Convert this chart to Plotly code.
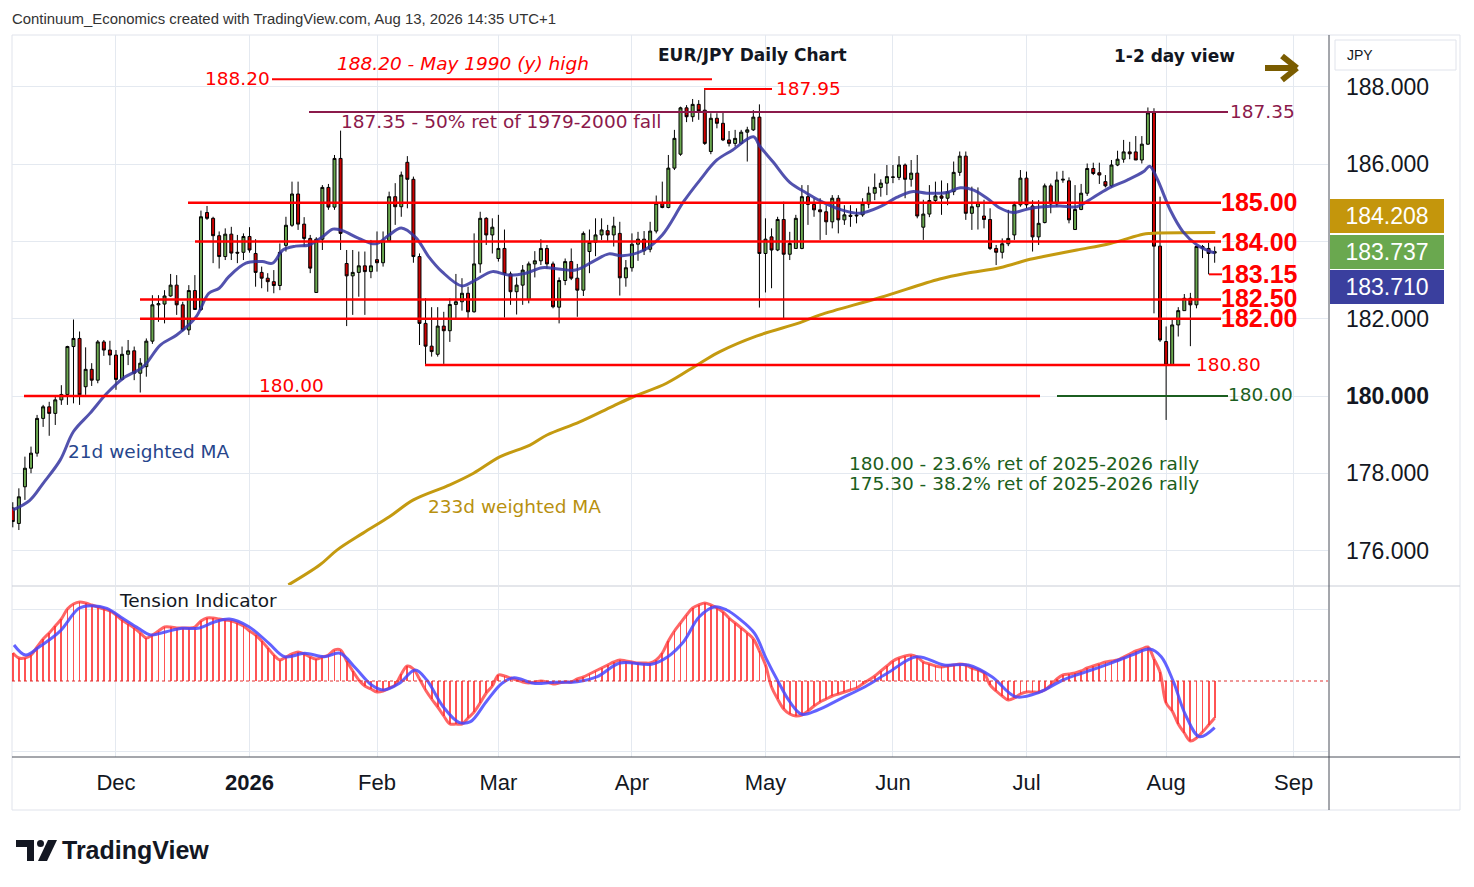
import pandas as pd
import plotly.graph_objects as go

# ------------------------------------------------------------------ data
dates = [d for d in pd.bdate_range("2025-11-06", "2026-08-13")
         if d.strftime("%m-%d") not in ("12-25", "01-01")]

open_ = [
    177.10, 176.70, 177.65, 178.13, 178.52, 179.42, 179.72, 179.55, 179.90, 180.04,
    181.28, 181.49, 180.24, 180.69, 180.41, 181.40, 181.19, 181.06, 180.43, 181.08,
    181.17, 180.59, 180.76, 181.42, 182.36, 182.38, 182.59, 182.87, 182.36, 181.71,
    182.73, 182.24, 184.75, 184.60, 184.15, 183.61, 184.19, 183.72, 183.72, 184.13,
    183.69, 183.20, 183.05, 182.96, 182.86, 183.90, 184.42, 185.23, 184.45, 184.08,
    182.68, 184.06, 185.40, 184.89, 186.15, 183.43, 183.11, 183.20, 183.37, 183.22,
    183.53, 183.45, 184.02, 185.16, 184.90, 186.05, 185.61, 183.61, 181.88, 181.29,
    181.08, 181.81, 181.69, 182.37, 182.44, 182.66, 182.18, 183.42, 184.60, 184.17,
    183.56, 183.82, 183.16, 182.70, 182.87, 182.50, 183.42, 183.50, 183.82, 183.42,
    182.30, 182.99, 183.48, 183.05, 182.74, 183.74, 183.98, 184.17, 184.28, 184.17,
    184.21, 183.06, 183.32, 183.93, 184.06, 183.80, 184.27, 184.99, 184.88, 185.90,
    186.26, 187.46, 187.23, 187.55, 187.40, 186.33, 187.19, 187.06, 186.63, 186.54,
    186.54, 186.83, 186.89, 187.22, 183.69, 184.12, 183.78, 184.57, 183.67, 183.82,
    183.82, 185.16, 184.96, 184.82, 184.77, 184.51, 185.12, 184.56, 184.68, 184.66,
    184.69, 184.97, 185.25, 185.40, 185.51, 185.66, 185.66, 185.98, 185.61, 185.77,
    184.37, 184.71, 185.06, 185.18, 185.12, 185.29, 185.79, 186.21, 184.73, 184.90,
    184.66, 184.57, 183.82, 183.72, 183.94, 184.17, 184.95, 185.64, 184.92, 184.12,
    184.49, 185.44, 184.97, 185.59, 185.57, 184.31, 184.83, 185.25, 185.89, 185.78,
    185.55, 185.44, 185.98, 186.13, 186.32, 186.32, 186.11, 186.52, 187.33, 183.88,
    181.41, 180.80, 181.84, 182.21, 182.53, 182.36, 183.87, 183.82, 183.70,
]
high = [
    177.25, 177.61, 178.43, 178.69, 179.51, 179.77, 179.85, 179.98, 180.28, 181.30,
    181.98, 181.67, 181.26, 180.85, 181.45, 181.45, 181.43, 181.19, 181.28, 181.45,
    181.28, 180.98, 181.49, 182.61, 182.61, 182.74, 183.16, 183.13, 182.44, 182.87,
    183.13, 184.80, 184.92, 184.64, 184.26, 184.34, 184.38, 184.17, 184.21, 184.37,
    184.06, 183.35, 183.18, 183.26, 183.95, 184.64, 185.55, 185.55, 184.63, 184.17,
    184.11, 185.46, 185.49, 186.24, 186.87, 183.78, 183.78, 183.74, 183.74, 184.04,
    184.26, 184.26, 185.29, 185.51, 185.81, 186.21, 185.68, 183.69, 182.53, 182.30,
    182.30, 182.18, 182.53, 183.16, 183.05, 182.83, 184.21, 184.77, 184.63, 184.60,
    184.69, 184.31, 183.22, 183.07, 183.39, 183.48, 183.75, 184.06, 183.91, 183.48,
    183.07, 183.56, 183.82, 183.42, 184.26, 184.31, 184.60, 184.60, 184.43, 184.64,
    184.51, 183.52, 184.21, 184.25, 184.27, 184.51, 185.19, 185.55, 186.24, 186.89,
    187.49, 187.53, 187.69, 187.66, 187.95, 187.32, 187.32, 187.34, 186.86, 186.89,
    186.89, 186.97, 187.40, 187.55, 184.60, 184.34, 184.64, 185.03, 184.25, 184.69,
    185.46, 185.46, 185.12, 185.12, 184.94, 185.20, 185.20, 184.94, 184.94, 184.86,
    185.12, 185.42, 185.76, 185.61, 185.98, 185.98, 186.21, 186.02, 186.11, 186.24,
    185.08, 185.46, 185.55, 185.58, 185.51, 186.07, 186.33, 186.33, 185.42, 185.40,
    185.08, 184.86, 183.91, 184.08, 184.82, 185.03, 185.85, 185.81, 185.07, 185.07,
    185.50, 185.50, 185.81, 185.83, 185.66, 185.46, 185.49, 186.02, 186.04, 186.04,
    185.72, 186.11, 186.35, 186.63, 186.58, 186.73, 186.73, 187.47, 187.45, 185.16,
    181.80, 181.97, 182.30, 182.64, 182.67, 183.88, 183.91, 183.97, 183.87,
]
low = [
    176.60, 176.53, 177.31, 178.00, 178.43, 179.20, 178.97, 179.25, 179.77, 179.77,
    179.81, 179.77, 180.03, 180.26, 180.33, 181.04, 180.80, 180.16, 180.41, 180.80,
    180.41, 180.09, 180.50, 181.35, 181.92, 181.88, 182.57, 182.10, 181.67, 181.58,
    182.23, 182.20, 184.56, 183.44, 183.30, 183.52, 183.52, 183.44, 183.52, 183.71,
    182.83, 182.79, 182.70, 182.66, 182.74, 183.74, 184.38, 184.30, 183.87, 183.18,
    182.68, 183.78, 184.82, 184.82, 183.78, 181.81, 182.10, 182.57, 182.10, 183.05,
    183.22, 183.35, 184.00, 184.43, 184.64, 184.86, 183.45, 181.32, 180.80, 181.02,
    181.02, 180.83, 181.40, 182.01, 182.21, 182.01, 182.16, 183.19, 183.91, 183.69,
    183.48, 182.03, 182.36, 182.11, 182.36, 182.40, 183.07, 183.39, 183.30, 182.27,
    181.88, 182.87, 183.00, 182.05, 182.59, 183.18, 183.62, 184.04, 184.00, 183.87,
    182.60, 182.83, 183.22, 183.50, 183.65, 183.72, 184.21, 184.86, 184.86, 185.85,
    186.22, 187.09, 187.10, 187.15, 186.50, 186.26, 186.93, 186.60, 186.46, 186.46,
    186.52, 186.07, 186.86, 182.29, 182.68, 182.79, 183.75, 182.01, 183.52, 183.81,
    183.80, 184.43, 184.64, 184.04, 184.17, 184.34, 184.21, 184.43, 184.38, 184.47,
    184.64, 184.86, 185.07, 185.16, 185.20, 185.51, 185.59, 185.12, 185.42, 184.60,
    184.04, 184.63, 184.99, 184.69, 184.94, 185.20, 185.70, 184.56, 184.30, 184.31,
    184.34, 183.78, 183.39, 183.56, 183.88, 184.04, 184.90, 184.86, 183.74, 183.91,
    184.47, 184.73, 184.90, 185.52, 184.47, 184.31, 184.81, 185.18, 185.72, 185.49,
    185.40, 185.40, 185.95, 186.04, 186.13, 186.11, 186.02, 186.50, 182.14, 181.40,
    179.38, 180.80, 181.54, 182.21, 181.29, 182.27, 183.57, 183.15, 183.45,
]
close = [
    176.75, 177.39, 178.13, 178.52, 179.42, 179.72, 179.55, 179.90, 180.04, 181.28,
    181.49, 180.03, 180.69, 180.41, 181.40, 181.19, 181.06, 180.43, 181.08, 181.17,
    180.59, 180.85, 181.42, 182.36, 182.39, 182.59, 182.87, 182.36, 181.71, 182.73,
    182.24, 184.64, 184.60, 184.15, 183.61, 184.19, 183.70, 183.70, 184.13, 183.78,
    183.20, 183.05, 182.96, 182.86, 183.72, 184.42, 185.23, 184.45, 184.08, 183.31,
    184.06, 185.40, 184.89, 186.15, 184.21, 183.11, 183.20, 183.37, 183.22, 183.37,
    183.45, 184.02, 185.16, 184.90, 185.72, 185.61, 183.61, 181.88, 181.29, 181.15,
    181.81, 181.69, 182.37, 182.44, 182.66, 182.18, 183.42, 184.60, 184.17, 184.37,
    183.82, 183.16, 182.70, 182.87, 183.26, 183.42, 183.50, 183.82, 183.42, 182.31,
    182.99, 183.48, 183.05, 182.74, 184.21, 183.98, 184.17, 184.30, 184.17, 184.40,
    183.06, 183.32, 183.93, 184.06, 183.76, 184.27, 184.99, 184.88, 185.90, 186.67,
    187.46, 187.23, 187.55, 187.38, 186.54, 187.19, 187.06, 186.63, 186.54, 186.67,
    186.83, 186.89, 187.22, 183.69, 184.06, 183.78, 184.57, 183.67, 183.95, 184.60,
    185.16, 184.96, 184.82, 184.77, 184.51, 185.12, 184.56, 184.69, 184.65, 184.68,
    184.97, 185.25, 185.40, 185.51, 185.68, 185.67, 185.98, 185.61, 185.77, 184.66,
    184.71, 185.06, 185.18, 185.12, 185.29, 185.79, 186.21, 184.73, 184.90, 185.00,
    184.57, 183.82, 183.72, 183.94, 184.08, 184.95, 185.64, 184.95, 184.12, 184.47,
    185.44, 184.97, 185.59, 185.61, 184.56, 184.83, 185.25, 185.89, 185.76, 185.72,
    185.44, 185.98, 186.13, 186.32, 186.27, 186.11, 186.52, 187.33, 183.88, 181.45,
    180.80, 181.84, 182.21, 182.53, 182.36, 183.87, 183.83, 183.69, 183.737,
]

# 21d weighted MA (bar position, value)
wma21_pos = [0, 2.8, 5, 7.8, 10, 12.7, 15.5, 18.2, 21.5, 24.3, 27, 30.2, 32.3, 34, 35.6,
             38.4, 41.1, 42.8, 44.5, 46.6, 48.8, 51.1, 52.7, 54.3, 57, 59.8, 62, 64, 66.4,
             68.5, 70.7, 74, 76.2, 79, 81.7, 84.5, 87.2, 89.9, 92.7, 96, 98.2, 100.4, 104,
             107, 110.5, 113.2, 116, 118.6, 122, 123.1, 125.3, 128, 130.8, 133, 136.3, 139.6,
             142.9, 145.6, 148.1, 150.6, 153.9, 156.1, 158.3, 160.5, 162.7, 164.8, 167.4,
             169.8, 172.5, 175.3, 178, 180.8, 183.6, 186.3, 187.3, 188.5, 190.7, 192.8,
             195.1, 197.3, 198]
wma21_val = [177.05, 177.30, 177.74, 178.34, 179.08, 179.55, 180.07, 180.46, 180.76, 181.32,
             181.58, 182.05, 182.66, 182.79, 183.09, 183.44, 183.48, 183.44, 183.78, 183.88,
             183.91, 184.13, 184.32, 184.28, 184.08, 183.94, 184.17, 184.35, 184.10, 183.61,
             183.22, 182.85, 183.00, 183.22, 183.13, 183.18, 183.32, 183.29, 183.26, 183.52,
             183.68, 183.63, 183.78, 184.17, 185.03, 185.59, 186.11, 186.37, 186.71, 186.46,
             186.05, 185.53, 185.25, 185.05, 184.83, 184.73, 184.90, 185.14, 185.29, 185.25,
             185.27, 185.39, 185.33, 185.12, 184.86, 184.75, 184.85, 184.90, 184.92, 184.90,
             185.14, 185.40, 185.59, 185.81, 185.95, 185.63, 184.81, 184.25, 183.91, 183.74,
             183.71]

# 233d weighted MA (bar position, value)
wma233_pos = [45.4, 50.6, 53.4, 57.7, 62.1, 66.0, 72.0, 75.9, 80.3, 85.2, 88.0, 93.4, 98.9,
              102.5, 107.7, 113.2, 116.5, 122.5, 129.7, 133.0, 142.9, 152.7, 157.1, 162.6,
              167.6, 169.8, 175.3, 180.8, 186.2, 187.3, 198.1]
wma233_val = [175.11, 175.63, 176.01, 176.45, 176.88, 177.31, 177.70, 178.00, 178.43, 178.73,
              178.99, 179.33, 179.74, 180.00, 180.33, 180.85, 181.15, 181.55, 181.90, 182.10,
              182.55, 183.03, 183.18, 183.32, 183.54, 183.61, 183.78, 183.95, 184.19, 184.21,
              184.23]

# Tension indicator (one value per bar) and its signal line
tension = [
    28, 23, 23, 26, 34, 42, 48, 55, 62, 72,
    77, 79, 78, 76, 74, 72, 70, 66, 61, 57,
    53, 48, 43, 46, 50, 54, 54, 53, 53, 53,
    54, 60, 63, 63, 62, 61, 60, 58, 55, 50,
    46, 40, 33, 26, 21, 24, 27, 29, 27, 24,
    22, 24, 26, 31, 31, 20, 10, 1, -5, -8,
    -11, -10, -7, -4, 7, 15, 12, 2, -9, -18,
    -26, -35, -43, -43, -43, -37, -31, -22, -12, -5,
    6, 5, 3, 1, -1, -2, -1, 0, -1, -3,
    -2, -1, -1, 2, 4, 7, 10, 13, 16, 19,
    21, 20, 19, 18, 18, 18, 21, 28, 40, 50,
    58, 66, 73, 76, 78, 76, 73, 69, 63, 58,
    53, 48, 42, 30, 16, -6, -18, -28, -33, -35,
    -34, -30, -25, -21, -18, -15, -13, -11, -9, -7,
    -3, 1, 5, 10, 15, 20, 23, 25, 26, 24,
    19, 17, 15, 14, 15, 16, 17, 16, 13, 11,
    8, -4, -10, -15, -19, -17, -13, -11, -11, -11,
    -9, -4, 2, 6, 7, 8, 10, 13, 15, 17,
    19, 20, 21, 24, 27, 30, 32, 34, 22, 9,
    -22, -30, -43, -52, -60, -57, -51, -44, -37,
]
signal_pos = [0.2, 2.1, 4.4, 7.7, 10.9, 12.9, 15.5, 18.1, 20.7, 22.7, 25.3, 27.9, 30.5, 33.1,
              35.7, 38.9, 42.2, 44.8, 48.1, 51.3, 53.9, 56.5, 59.1, 61.1, 63.7, 66.3, 68.2,
              70.9, 73.5, 75.4, 78.0, 80.6, 82.6, 85.8, 89.1, 93.0, 96.3, 100.0, 105.2, 107.9,
              110.5, 113.1, 115.7, 117.6, 119.6, 122.2, 124.1, 126.1, 128.0, 130.0, 132.6,
              136.5, 140.4, 144.3, 148.9, 153.4, 157.4, 161.3, 165.2, 169.1, 173.0, 176.9,
              180.8, 184.7, 187.3, 189.2, 191.2, 193.2, 195.5, 198.0]
signal_val = [36, 26, 34.3, 49.3, 72.7, 75.3, 72.7, 62.7, 52.7, 46, 49.3, 52.7, 52.7, 58.7,
              62, 54.3, 37.7, 24.3, 27.7, 24.3, 27.7, 12.7, -4, -9, -2.3, 11, 1, -25.7, -41.3,
              -40.7, -20.7, -2.3, 3.3, -2.3, -1.3, -0.7, 4.3, 18, 16.7, 24.3, 39.3, 64.3, 74.3,
              71, 62.7, 47.7, 22.7, -0.7, -20.7, -33.3, -29, -17.3, -5.7, 8.7, 24.3, 16, 16,
              4.3, -15.7, -11.3, 1, 9.3, 17.7, 26.7, 32, 24.3, -0.7, -34, -55.7, -46.7]

month_labels = ["Dec", "<b>2026</b>", "Feb", "Mar", "Apr", "May", "Jun", "Jul", "Aug", "Sep"]
month_starts = ["2025-12-01", "2026-01-02", "2026-02-02", "2026-03-02", "2026-04-01",
                "2026-05-01", "2026-06-01", "2026-07-01", "2026-08-03", "2026-09-01"]
price_ticks = [176, 178, 180, 182, 184, 186, 188]
price_ticktext = ["176.000", "178.000", "<b>180.000</b>", "182.000", "", "186.000", "188.000"]

wma233_last = 184.208
close_last = 183.737
wma21_last = 183.710

# ------------------------------------------------------------------ helpers
# The page body adds an 8px margin, so the figure is laid out 8px smaller/offset.
OFF = 8
FW, FH = 1474 - 2 * OFF, 887 - 2 * OFF
ML, MT = 12 - OFF, 35 - OFF
MR = FW - (1328 - OFF)
MB = FH - (757 - OFF)
PW, PH = FW - ML - MR, FH - MT - MB


def px(x):  # reference-image pixel x -> paper
    return (x - 12) / PW


def py(y):  # reference-image pixel y -> paper
    return (757 - y) / PH


def bar_index(ds):
    d = pd.Timestamp(ds)
    if d in dates:
        return dates.index(d)
    return len(dates) - 1 + len(pd.bdate_range(dates[-1] + pd.Timedelta(days=1), d))


xs = list(range(len(dates)))
tick_pos = [bar_index(d) for d in month_starts]

RED = "#FF0000"
MAROON = "#8B1A4B"
DGREEN = "#1B5E20"
NAVY = "#27468C"
GOLD = "#B8900E"
GRID = "#E4E9F0"
TXT = "#131722"
XR = [-0.13, 216.67]

fig = go.Figure()

fig.add_trace(go.Candlestick(
    x=xs, open=open_, high=high, low=low, close=close,
    increasing=dict(line=dict(color="#000000", width=1), fillcolor="#6AA84F"),
    decreasing=dict(line=dict(color="#000000", width=1), fillcolor="#CC0000"),
    whiskerwidth=0, xaxis="x", yaxis="y", showlegend=False))

fig.add_trace(go.Scatter(x=wma233_pos, y=wma233_val, mode="lines",
                         line=dict(color="#C49A10", width=3, shape="spline"),
                         xaxis="x", yaxis="y", hoverinfo="skip"))
fig.add_trace(go.Scatter(x=wma21_pos, y=wma21_val, mode="lines",
                         line=dict(color="rgba(52,52,160,0.85)", width=3, shape="spline"),
                         xaxis="x", yaxis="y", hoverinfo="skip"))

# Tension indicator
fig.add_trace(go.Bar(x=xs, y=tension, width=0.3,
                     marker=dict(color="rgba(255,40,40,0.8)", line=dict(width=0)),
                     xaxis="x2", yaxis="y2", hoverinfo="skip"))
fig.add_trace(go.Scatter(x=xs, y=tension, mode="lines",
                         line=dict(color="rgba(255,50,50,0.75)", width=3, shape="spline"),
                         xaxis="x2", yaxis="y2", hoverinfo="skip"))
fig.add_trace(go.Scatter(x=signal_pos, y=signal_val, mode="lines",
                         line=dict(color="rgba(70,70,255,0.85)", width=3, shape="spline"),
                         xaxis="x2", yaxis="y2", hoverinfo="skip"))

fig.update_layout(
    width=FW, height=FH, margin=dict(l=ML, r=MR, t=MT, b=MB, autoexpand=False),
    paper_bgcolor="white", plot_bgcolor="white", showlegend=False, bargap=0,
    xaxis=dict(domain=[0, 1], anchor="y", range=XR, tickvals=tick_pos, showticklabels=False,
               showgrid=True, gridcolor=GRID, zeroline=False, rangeslider=dict(visible=False),
               ticks=""),
    yaxis=dict(domain=[py(585), 1], anchor="x", range=[175.107, 189.346], side="right",
               tickvals=price_ticks, ticktext=price_ticktext, showgrid=True, gridcolor=GRID,
               zeroline=False, ticks="", ticklabelstandoff=17,
               tickfont=dict(family="Liberation Sans", size=23, color=TXT)),
    xaxis2=dict(domain=[0, 1], anchor="y2", range=XR, tickvals=tick_pos, ticktext=month_labels,
                showgrid=True, gridcolor=GRID, zeroline=False, ticks="", ticklabelstandoff=10,
                tickfont=dict(family="Liberation Sans", size=22, color=TXT)),
    yaxis2=dict(domain=[0, py(587)], anchor="x2", range=[-76, 94], side="right",
                tickvals=[-70, 72], showticklabels=False, showgrid=True, gridcolor=GRID,
                zeroline=False, ticks=""),
)

shapes = []


def hline(level, x0, x1, color, width=2.5):
    shapes.append(dict(type="line", xref="paper", yref="y", x0=px(x0), x1=px(x1),
                       y0=level, y1=level, line=dict(color=color, width=width), layer="above"))


def pline(x0, y0, x1, y1, color, width=1, dash=None):
    ln = dict(color=color, width=width)
    if dash:
        ln["dash"] = dash
    shapes.append(dict(type="line", xref="paper", yref="paper", x0=px(x0), y0=py(y0),
                       x1=px(x1), y1=py(y1), line=ln, layer="above"))


hline(188.20, 272, 712, RED, 2)
hline(187.95, 704, 772, RED, 2)
hline(187.35, 309, 1228, MAROON, 2)
hline(185.00, 188, 1221, RED)
hline(184.00, 195, 1221, RED)
hline(183.15, 1209, 1222, RED, 2)
hline(182.50, 140, 1221, RED)
hline(182.00, 140, 1221, RED)
hline(180.80, 425, 1190, RED)
hline(180.00, 24, 1040, RED)
hline(180.00, 1057, 1228, DGREEN, 2)

# zero line of the indicator
shapes.append(dict(type="line", xref="paper", yref="y2", x0=0, x1=1, y0=0, y1=0,
                   line=dict(color="#E03030", width=1.2, dash="dot"), layer="above"))

# frame / separators
pline(12, 586, 1460, 586, "#C9CDD6", 1)
pline(1329, 35, 1329, 810, "#4A4E59", 1)
pline(12, 757, 1460, 757, "#4A4E59", 1)
shapes.append(dict(type="rect", xref="paper", yref="paper", x0=px(12), y0=py(35), x1=px(1460),
                   y1=py(810), line=dict(color="#E0E3EB", width=1), layer="below"))
# currency box
shapes.append(dict(type="rect", xref="paper", yref="paper", x0=px(1335), y0=py(40), x1=px(1456),
                   y1=py(70), line=dict(color="#E0E3EB", width=1), fillcolor="white", layer="above"))
# outlook arrow
ARROW = "#7A5C00"
pline(1265, 68, 1295, 68, ARROW, 6)
pline(1282, 56, 1297, 68, ARROW, 6)
pline(1297, 68, 1282, 80, ARROW, 6)

# TradingView logo mark
shapes.append(dict(type="rect", xref="paper", yref="paper", x0=px(16), y0=py(840), x1=px(34),
                   y1=py(847), fillcolor=TXT, line=dict(width=0)))
shapes.append(dict(type="rect", xref="paper", yref="paper", x0=px(27), y0=py(840), x1=px(34),
                   y1=py(861), fillcolor=TXT, line=dict(width=0)))
shapes.append(dict(type="circle", xref="paper", yref="paper", x0=px(37), y0=py(840), x1=px(44),
                   y1=py(847), fillcolor=TXT, line=dict(width=0)))
shapes.append(dict(type="path", xref="paper", yref="paper",
                   path="M %f,%f L %f,%f L %f,%f L %f,%f Z" % (px(38), py(861), px(47), py(861),
                                                               px(57), py(840), px(48), py(840)),
                   fillcolor=TXT, line=dict(width=0)))
fig.update_layout(shapes=shapes)


def txt(s, x, y, size, color, family="DejaVu Sans", anchor="left", bold=False, italic=False):
    f = dict(size=size, color=color, family=family)
    if bold:
        f["weight"] = "bold"
    if italic:
        f["style"] = "italic"
    fig.add_annotation(text=s, xref="paper", yref="paper", x=px(x), y=py(y), xanchor=anchor,
                       yanchor="middle", showarrow=False, font=f, borderpad=0)


txt("Continuum_Economics created with TradingView.com, Aug 13, 2026 14:35 UTC+1", 11, 19, 14.9,
    "#333333", family="Liberation Sans")
txt("EUR/JPY Daily Chart", 657, 55, 17, TXT, bold=True)
txt("1-2 day view", 1113, 56, 17, TXT, bold=True)
txt("188.20", 204, 78, 18.5, RED)
txt("188.20 - May 1990 (y) high", 336, 64, 18.5, RED, italic=True)
txt("187.95", 775, 89, 18.5, RED)
txt("187.35", 1229, 112, 18.5, MAROON)
txt("187.35 - 50% ret of 1979-2000 fall", 340, 122, 18.5, MAROON)
for lab, yy in [("185.00", 202), ("184.00", 242), ("183.15", 274), ("182.50", 298), ("182.00", 318)]:
    txt(lab, 1220, yy, 25, RED, family="Liberation Sans", bold=True)
txt("180.80", 1195, 364, 18.5, RED)
txt("180.00", 258, 385, 18.5, RED)
txt("180.00", 1227, 394, 18.5, DGREEN)
txt("180.00 - 23.6% ret of 2025-2026 rally", 848, 463, 18.5, DGREEN)
txt("175.30 - 38.2% ret of 2025-2026 rally", 848, 483, 18.5, DGREEN)
txt("21d weighted MA", 67, 452, 18.5, NAVY)
txt("233d weighted MA", 427, 506, 18.5, GOLD)
txt("Tension Indicator", 118, 600, 18.5, TXT)
txt("JPY", 1346, 55, 14, TXT, family="Liberation Sans")
txt("TradingView", 61, 850, 25, TXT, family="Liberation Sans", bold=True)

for val, yy, bg in [(wma233_last, 216, "#C4960C"), (close_last, 252, "#6AA84F"),
                    (wma21_last, 287, "#3A3F9E")]:
    fig.add_annotation(text="%.3f" % val, xref="paper", yref="paper", x=px(1330), y=py(yy),
                       xanchor="left", yanchor="middle", showarrow=False, width=110, height=30,
                       align="center", bgcolor=bg, bordercolor=bg, borderpad=1,
                       font=dict(family="Liberation Sans", size=23, color="white"))

fig.write_html("out.html")
